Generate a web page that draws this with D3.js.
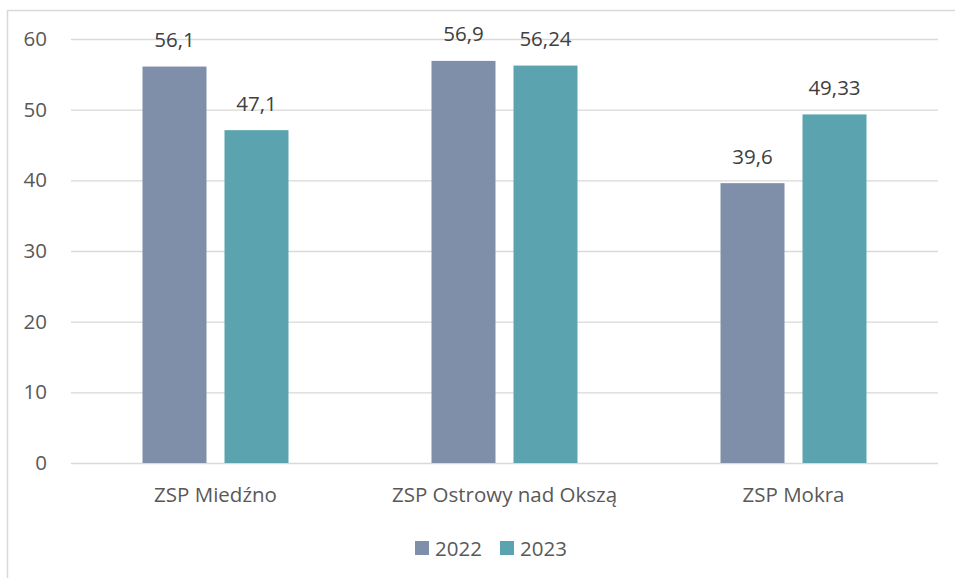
<!DOCTYPE html>
<html><head><meta charset="utf-8">
<script src="https://cdn.jsdelivr.net/npm/d3@7"></script>
<style>body{margin:0;background:#fff}svg{display:block}</style>
</head><body>
<script>
const categories = ["ZSP Miedźno", "ZSP Ostrowy nad Okszą", "ZSP Mokra"];
const seriesNames = ["2022", "2023"];
const values2022 = [56.1, 56.9, 39.6];
const values2023 = [47.1, 56.24, 49.33];
const labels2022 = ["56,1", "56,9", "39,6"];
const labels2023 = ["47,1", "56,24", "49,33"];
const yTicks = [0, 10, 20, 30, 40, 50, 60];
const colors = ["#7F8FA9", "#5BA3AE"];

(function () {
const W = 955, H = 578;
const font = "'Open Sans', sans-serif";
const fs = 20.5;
const svg = d3.select("body").append("svg").attr("width", W).attr("height", H);

// outer border
svg.append("rect").attr("x", 7.5).attr("y", 10.5).attr("width", W + 10).attr("height", H + 10)
  .attr("fill", "none").attr("stroke", "#D9D9D9").attr("stroke-width", 1.5);

const pl = 71, pr = 938, pt = 39, pb = 463;
const x = d3.scaleBand().domain(categories).range([pl, pr]);
const y = d3.scaleLinear().domain([0, 60]).range([pb, pt]);

// gridlines
svg.append("g").selectAll("line").data(yTicks).join("line")
  .attr("x1", pl).attr("x2", pr)
  .attr("y1", d => y(d) + 0.5).attr("y2", d => y(d) + 0.5)
  .attr("stroke", "#D9D9D9").attr("stroke-width", 1.3);

// y axis labels
const yAxis = d3.axisLeft(y).tickValues(yTicks).tickSize(0).tickPadding(0);
const gy = svg.append("g").attr("transform", `translate(47,0)`).call(yAxis);
gy.select(".domain").remove();
gy.selectAll("text").attr("font-family", font).attr("font-size", fs).attr("fill", "#595959");

// x axis labels
const xAxis = d3.axisBottom(x).tickSize(0).tickPadding(0);
const gx = svg.append("g").attr("transform", `translate(0,${pb})`).call(xAxis);
gx.select(".domain").remove();
gx.selectAll("text").attr("font-family", font).attr("font-size", fs).attr("fill", "#595959")
  .attr("dy", null).attr("y", 39);

const data = categories.map((c, i) => ({c, vals: [values2022[i], values2023[i]], labs: [labels2022[i], labels2023[i]]}));
const barW = 64, gap = 18;
const groupW = 2 * barW + gap;
data.forEach(d => {
  const x0 = x(d.c) + (x.bandwidth() - groupW) / 2;
  d.vals.forEach((v, j) => {
    const bx = x0 + j * (barW + gap);
    svg.append("rect").attr("x", bx).attr("y", y(v)).attr("width", barW).attr("height", y(0) - y(v))
      .attr("fill", colors[j]);
    svg.append("text").attr("x", bx + barW / 2).attr("y", y(v) - 19.5)
      .attr("text-anchor", "middle").attr("font-family", font).attr("font-size", fs)
      .attr("fill", "#404040").text(d.labs[j]);
  });
});

// legend
const legend = [{n: seriesNames[0], c: colors[0], x: 415}, {n: seriesNames[1], c: colors[1], x: 500}];
legend.forEach(l => {
  svg.append("rect").attr("x", l.x).attr("y", 541).attr("width", 14).attr("height", 14).attr("fill", l.c);
  svg.append("text").attr("x", l.x + 20).attr("y", 556)
    .attr("font-family", font).attr("font-size", fs).attr("fill", "#595959").text(l.n);
});
})();
</script>
</body></html>
